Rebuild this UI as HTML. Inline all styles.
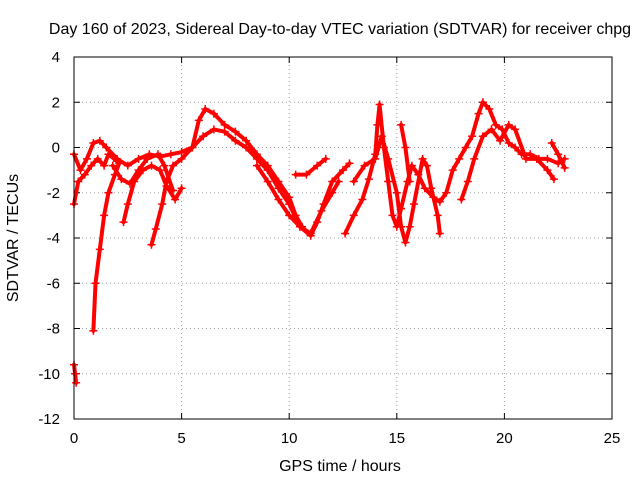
<!DOCTYPE html>
<html><head><meta charset="utf-8"><style>
body{margin:0;background:#fff}
svg{display:block;font-family:"Liberation Sans",sans-serif;font-size:15px}
</style></head><body>
<svg id="chart" width="640" height="480">
<text x="340" y="34" text-anchor="middle" font-size="16">Day 160 of 2023, Sidereal Day-to-day VTEC variation (SDTVAR) for receiver chpg</text>
<text x="340" y="471" text-anchor="middle" font-size="16">GPS time / hours</text>
<text transform="translate(18,238) rotate(-90)" text-anchor="middle" font-size="16">SDTVAR / TECUs</text>
<g id="grid"></g><g id="ticks"></g><g id="marks"></g>
<rect x="74" y="57" width="538" height="362" fill="none" stroke="#000"/>
</svg>
<script>
const xTicks=[0,5,10,15,20,25];
const yTicks=[4,2,0,-2,-4,-6,-8,-10,-12];
const trackA=[[0,-0.3],[0.3,-1],[0.6,-0.5],[0.9,0.2],[1.2,0.3],[1.5,0],[2,-0.5],[2.5,-0.8],[3,-0.5],[3.5,-0.3],[4,-0.4],[4.5,-0.3],[5,-0.2],[5.5,0],[5.8,1.2],[6.1,1.7],[6.5,1.5],[7,1],[7.5,0.7],[8,0.3],[8.5,-0.3],[9,-0.8],[9.5,-1.5],[10,-2.2],[10.3,-3],[10.6,-3.5]];
const trackB=[[0,-2.5],[0.2,-1.5],[0.5,-1.2],[0.8,-0.8],[1.1,-0.5],[1.4,-0.8],[1.6,-0.3],[2,-0.6]];
const trackC=[[0.9,-8.1],[1,-6],[1.2,-4.5],[1.4,-3],[1.6,-2],[1.9,-1.2],[2.1,-0.7]];
const trackD=[[0,-9.6],[0.05,-10],[0.1,-10.4]];
const trackE=[[2.3,-3.3],[2.5,-2.5],[2.8,-1.5],[3.2,-1],[3.6,-0.8],[4,-1],[4.3,-1.7],[4.7,-2.3],[5,-1.8]];
const trackF=[[3.6,-4.3],[3.8,-3.6],[4.1,-2.5],[4.3,-1.5],[4.6,-0.8],[5,-0.5],[5.5,0],[6,0.5],[6.5,0.8],[7,0.7],[7.5,0.3],[8,0],[8.5,-0.5],[9,-1],[9.5,-1.8],[10,-2.5],[10.5,-3.5],[11,-3.8],[11.5,-2.8],[12,-2],[12.3,-1.5]];
const trackG=[[1.8,-0.8],[2.2,-1.4],[2.6,-1.6],[3,-1],[3.4,-0.5],[3.9,-0.3],[4.2,-0.8],[4.6,-1.9]];
const trackH=[[8.5,-0.8],[9,-1.5],[9.5,-2.3],[10,-3],[10.5,-3.5],[11,-3.9],[11.3,-3.3],[11.6,-2.5],[12,-1.5],[12.5,-1],[12.8,-0.7]];
const trackI=[[10.3,-1.2],[10.8,-1.2],[11.3,-0.8],[11.7,-0.5]];
const trackJ=[[12.6,-3.8],[13,-3],[13.4,-2.3],[13.7,-1.4],[14,-0.3],[14.1,1],[14.2,1.9],[14.4,0],[14.6,-1.5],[14.8,-3],[15,-3.5],[15.2,-2.7],[15.5,-1.5],[15.7,-0.8],[16,-1.2],[16.3,-1.8],[16.7,-2.2],[17,-2.4],[17.3,-2],[17.6,-1],[17.9,-0.5],[18.2,0],[18.5,0.5],[18.8,1.5],[19,2],[19.3,1.7],[19.6,1],[19.9,0.8],[20.2,0.2],[20.5,0],[20.8,-0.3],[21.2,-0.3],[21.6,-0.5],[22,-0.5],[22.5,-0.7],[22.8,-0.5]];
const trackK=[[13,-1.5],[13.5,-0.8],[14,-0.5],[14.3,0.5],[14.6,-0.5],[15,-2],[15.2,-3.5],[15.4,-4.2],[15.6,-3.5],[15.8,-2.5],[16.2,-0.5],[16.4,-0.8],[16.6,-1.8],[16.9,-3],[17,-3.8]];
const trackL=[[15.2,1],[15.4,0],[15.6,-1.5]];
const trackM=[[18,-2.3],[18.3,-1.5],[18.6,-0.5],[19,0.5],[19.4,0.8],[19.8,0.3],[20.2,1],[20.5,0.8],[21,-0.5],[21.5,-0.5],[22,-1],[22.3,-1.4]];
const trackN=[[22.2,0.2],[22.5,-0.3],[22.8,-0.9]];
const tracks=[trackA,trackB,trackC,trackD,trackE,trackF,trackG,trackH,trackI,trackJ,trackK,trackL,trackM,trackN];
const NS='http://www.w3.org/2000/svg';
const X=t=>74+t*538/25, Y=v=>57+(4-v)*362/16;
const grid=document.getElementById('grid'),ticks=document.getElementById('ticks'),marks=document.getElementById('marks');
function mk(tag,attrs,parent){const e=document.createElementNS(NS,tag);for(const k in attrs)e.setAttribute(k,attrs[k]);parent.appendChild(e);return e;}
xTicks.forEach(t=>{
 const g=mk('line',{x1:X(t),x2:X(t),y1:57,y2:419,stroke:'#a0a0a0','stroke-dasharray':'1,3'},grid);
 
 
 const l=mk('text',{x:X(t),y:443,'text-anchor':'middle'},ticks);l.textContent=t;
 
 
 mk('line',{x1:X(t),x2:X(t),y1:419,y2:413,stroke:'#000'},ticks);
 mk('line',{x1:X(t),x2:X(t),y1:57,y2:63,stroke:'#000'},ticks);
});
yTicks.forEach(v=>{
 const g=mk('line',{x1:74,x2:612,y1:Y(v),y2:Y(v),stroke:'#a0a0a0','stroke-dasharray':'1,3'},grid);
 
 
 const l=mk('text',{x:60,y:Y(v)+5,'text-anchor':'end'},ticks);l.textContent=v;
 
 
 mk('line',{x1:74,x2:80,y1:Y(v),y2:Y(v),stroke:'#000'},ticks);
 mk('line',{x1:612,x2:606,y1:Y(v),y2:Y(v),stroke:'#000'},ticks);
});
tracks.forEach(tr=>{
 const p=mk('polyline',{points:tr.map(d=>X(d[0])+','+Y(d[1])).join(' '),fill:'none',stroke:'#f00','stroke-width':4,'stroke-linejoin':'round','stroke-linecap':'round'},marks);
 
 
 tr.forEach(d=>{
  const x=X(d[0]),y=Y(d[1]);
  const m=mk('path',{d:`M${x-4},${y}H${x+4}M${x},${y-4}V${y+4}`,stroke:'#f00','stroke-width':1.5},marks);
  
  
 });
});
</script>
</body></html>
